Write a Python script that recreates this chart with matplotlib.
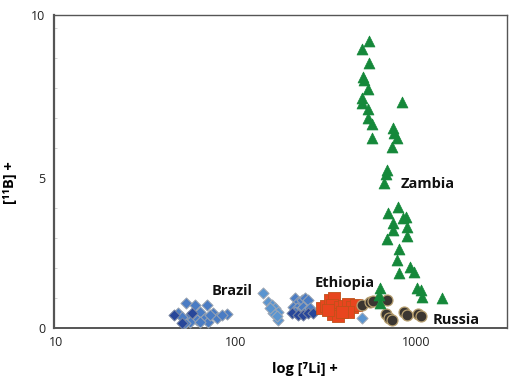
import matplotlib
matplotlib.use("Agg")
import matplotlib.pyplot as plt

# Zambia (green triangles)
zambia_li = [548, 501, 548, 508, 514, 541, 501, 501, 541, 836, 541, 570, 570, 745,
             755, 784, 736, 690, 681, 664, 794, 699, 745, 847, 880, 745, 891, 891,
             690, 805, 784, 926, 975, 805, 631, 622, 631, 1013, 1067, 1080, 1393]
zambia_b = [9.57, 9.30, 8.83, 8.37, 8.27, 7.97, 7.67, 7.50, 7.30, 7.53, 7.00, 6.80,
            6.33, 6.67, 6.50, 6.33, 6.03, 5.27, 5.13, 4.83, 4.03, 3.83, 3.50, 3.67,
            3.70, 3.27, 3.37, 3.07, 2.97, 2.63, 2.27, 2.03, 1.87, 1.83, 1.33, 1.10,
            0.83, 1.33, 1.27, 1.03, 1.00]

# Russia (dark circles)
russia_li = [501, 555, 577, 690, 681, 708, 736, 858, 891, 1026, 1067]
russia_b = [0.77, 0.87, 0.90, 0.93, 0.47, 0.33, 0.27, 0.53, 0.43, 0.47, 0.40]

# Ethiopia (red squares)
ethiopia_li = [300, 316, 333, 350, 342, 359, 378, 398, 419, 441, 464, 346, 369, 325, 419, 388]
ethiopia_b = [0.67, 0.73, 0.93, 1.00, 0.77, 0.60, 0.70, 0.73, 0.80, 0.70, 0.77, 0.47,
              0.40, 0.60, 0.53, 0.53]

# Brazil (blue diamonds), three shades
brazil_mid_li = [52.7, 69.0, 89.1, 63.1, 74.5, 54.1, 60.7, 67.2, 78.4, 69.9, 55.5,
                 59.2, 47.6, 71.7, 83.6, 52.1, 63.1, 50.1,
                 213, 221, 233, 242, 251, 207, 218, 227, 236, 248, 258, 213]
brazil_mid_b = [0.83, 0.77, 0.47, 0.53, 0.50, 0.37, 0.27, 0.33, 0.33, 0.20, 0.20,
                0.77, 0.50, 0.43, 0.43, 0.17, 0.20, 0.37,
                1.00, 0.87, 0.93, 1.00, 0.93, 0.70, 0.67, 0.60, 0.70, 0.60, 0.67, 0.53]
brazil_dark_li = [45.2, 50.1, 57.0, 205, 221, 236, 251, 268]
brazil_dark_b = [0.43, 0.17, 0.50, 0.50, 0.43, 0.43, 0.50, 0.50]
brazil_light_li = [141, 151, 158, 165, 171, 171, 161, 155, 169, 501]
brazil_light_b = [1.17, 0.87, 0.77, 0.67, 0.53, 0.27, 0.50, 0.67, 0.40, 0.33]

labels = {"Brazil": (95, 1.23), "Ethiopia": (400, 1.5), "Zambia": (1166, 4.8),
          "Russia": (1680, 0.27)}

plt.rcParams['font.family'] = ['Open Sans', 'DejaVu Sans']

fig = plt.figure(figsize=(5.17, 3.84), dpi=100)
ax = fig.add_axes([0.1044, 0.1458, 0.8763, 0.8152])

ax.scatter(brazil_mid_li, brazil_mid_b, marker='D', s=32, c='#4a7cc4',
           edgecolors='#9aa3b0', linewidths=0.7, zorder=3)
ax.scatter(brazil_dark_li, brazil_dark_b, marker='D', s=32, c='#28479a',
           edgecolors='#7a86a0', linewidths=0.7, zorder=3)
ax.scatter(brazil_light_li, brazil_light_b, marker='D', s=32, c='#5b95d0',
           edgecolors='#a0a8b4', linewidths=0.7, zorder=3)
ax.scatter(ethiopia_li, ethiopia_b, marker='s', s=65, c='#e8451e',
           edgecolors='#c0501a', linewidths=0.6, zorder=4)
ax.scatter(russia_li, russia_b, marker='o', s=62, c='#3b3631',
           edgecolors='#b8a070', linewidths=0.9, zorder=4)
ax.scatter(zambia_li, zambia_b, marker='^', s=62, c='#15883a',
           edgecolors='#15883a', linewidths=0.5, zorder=5)

for name, (lx, ly) in labels.items():
    ax.text(lx, ly, name, fontsize=10.5, fontweight='bold', ha='center',
            va='center', color='#111111', zorder=6)

ax.set_xscale('log')
ax.set_xlim(9.75, 3200)
ax.set_ylim(0, 10.43)
ax.set_xticks([10, 100, 1000])
ax.set_xticklabels(['10', '100', '1000'])
ax.set_xticks([], minor=True)
ax.set_yticks([0, 5, 10.43])
ax.set_yticklabels(['0', '5', '10'])
ax.set_yticks(range(1, 11), minor=True)
ax.tick_params(axis='both', which='major', labelsize=9, length=0, pad=6,
               colors='#222222')
ax.tick_params(axis='y', which='minor', length=2, color='#cccccc', direction='in')

for s in ax.spines.values():
    s.set_color('#555555')
    s.set_linewidth(1.0)
ax.spines['left'].set_linewidth(1.6)
ax.spines['bottom'].set_linewidth(1.4)

ax.set_xlabel('log [\u2077Li] +', fontsize=10.5, fontweight='bold')
ax.set_ylabel('[\u00b9\u00b9B] +', fontsize=10.5, fontweight='bold')
ax.xaxis.set_label_coords(0.554, -0.109)
ax.yaxis.set_label_coords(-0.082, 0.463)

fig.savefig('out.png', dpi=100)
